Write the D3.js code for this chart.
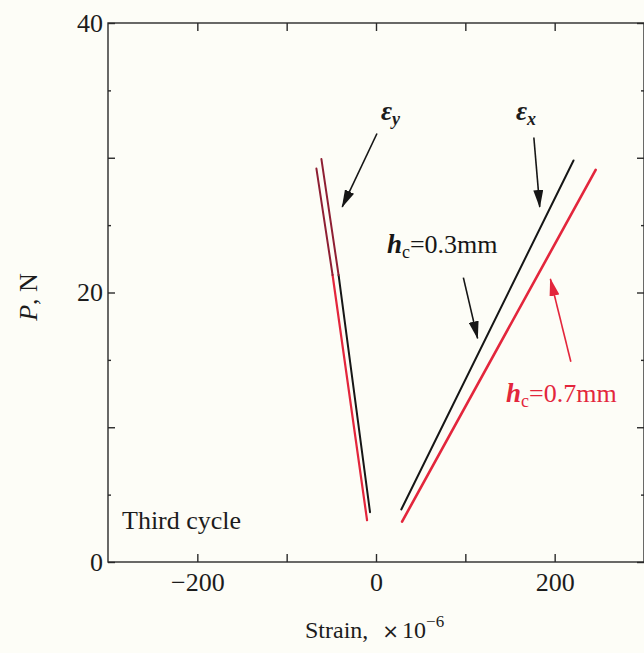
<!DOCTYPE html>
<html>
<head>
<meta charset="utf-8">
<script src="https://cdn.jsdelivr.net/npm/d3@7"></script>
<style>
  html, body { margin: 0; padding: 0; background: #fdfdf7; }
  svg { display: block; }
  text { font-family: "Liberation Serif", "Times New Roman", serif; fill: #1c1c1c; }
</style>
</head>
<body>
<svg id="chart" width="644" height="653"></svg>
<script>
// ---- axes ----
const strainDomain = [-300, 300];
const loadDomain = [0, 40];
const strainTicks = [-200, -100, 0, 100, 200];
const strainTickLabels = { "-200": "\u2212200", "0": "0", "200": "200" };
const loadMajorTicks = [0, 10, 20, 30, 40];
const loadMinorTicks = [5, 15, 25, 35];
const loadTickLabels = { "0": "0", "20": "20", "40": "40" };

// ---- measured curves, third load cycle (strain x1e-6, load N) ----
// eps_y gauges
const epsY03Strain = [-6.7, -41.9, -61.1];
const epsY03Load   = [3.7, 21.3, 29.9];
const epsY07Strain = [-10.0, -48.6, -66.7];
const epsY07Load   = [3.1, 21.3, 29.2];
// eps_x gauges
const epsX03Strain = [28.3, 221.1];
const epsX03Load   = [3.9, 29.8];
const epsX07Strain = [29.2, 245.9];
const epsX07Load   = [3.0, 29.1];

const BLACK = "#161616", RED = "#e3263c", MAROON = "#8e1f33";

const svg = d3.select("#chart");
const x = d3.scaleLinear().domain(strainDomain).range([108, 644]);
const y = d3.scaleLinear().domain(loadDomain).range([562, 23]);

const pts = (sx, sy) => sx.map((v, i) => [v, sy[i]]);
const line = d3.line().x(d => x(d[0])).y(d => y(d[1]));

// ---- curves ----
const curves = svg.append("g").attr("fill", "none")
  .attr("stroke-linecap", "round").attr("stroke-linejoin", "round");

// eps_y: lower part in gauge colour, upper part darker trace
const epsY = [
  { p: pts(epsY07Strain, epsY07Load), lower: RED, w: 2.2 },
  { p: pts(epsY03Strain, epsY03Load), lower: BLACK, w: 2 }
];
epsY.forEach(s => {
  curves.append("path").attr("d", line(s.p.slice(0, 2))).attr("stroke", s.lower).attr("stroke-width", s.w);
  curves.append("path").attr("d", line(s.p.slice(1))).attr("stroke", MAROON).attr("stroke-width", 2);
});
curves.append("path").attr("d", line(pts(epsX03Strain, epsX03Load))).attr("stroke", BLACK).attr("stroke-width", 2);
curves.append("path").attr("d", line(pts(epsX07Strain, epsX07Load))).attr("stroke", RED).attr("stroke-width", 2.6);

// ---- frame and ticks ----
const styleAxis = g => {
  g.select(".domain").remove();
  g.selectAll("line").attr("stroke", "#2a2a2a").attr("stroke-width", 1.4);
  g.selectAll("text").style("font-family", "'Liberation Serif','Times New Roman',serif")
    .style("font-size", "26px").attr("fill", "#1c1c1c");
};
const fmt = m => d => m[String(d)] || "";

svg.append("g").attr("transform", "translate(0,562)")
  .call(d3.axisBottom(x).tickValues(strainTicks).tickSize(-8).tickPadding(11).tickFormat(fmt(strainTickLabels)))
  .call(styleAxis);
svg.append("g").attr("transform", "translate(0,23)")
  .call(d3.axisTop(x).tickValues(strainTicks).tickSize(-8).tickFormat(""))
  .call(styleAxis);
svg.append("g").attr("transform", "translate(108,0)")
  .call(d3.axisLeft(y).tickValues(loadMajorTicks).tickSize(-7).tickPadding(5).tickFormat(fmt(loadTickLabels)))
  .call(styleAxis);
svg.append("g").attr("transform", "translate(108,0)")
  .call(d3.axisLeft(y).tickValues(loadMinorTicks).tickSize(-3).tickFormat(""))
  .call(styleAxis);
svg.append("g").attr("transform", "translate(644,0)")
  .call(d3.axisRight(y).tickValues(loadMajorTicks).tickSize(-7).tickFormat(""))
  .call(styleAxis);
svg.append("g").attr("transform", "translate(644,0)")
  .call(d3.axisRight(y).tickValues(loadMinorTicks).tickSize(-3).tickFormat(""))
  .call(styleAxis);

svg.append("rect").attr("x", x(strainDomain[0])).attr("y", y(loadDomain[1]))
  .attr("width", x(strainDomain[1]) - x(strainDomain[0]))
  .attr("height", y(loadDomain[0]) - y(loadDomain[1]))
  .attr("fill", "none").attr("stroke", "#2a2a2a").attr("stroke-width", 1.4);

// ---- axis titles ----
const xt = svg.append("text").attr("x", 305).attr("y", 638).style("font-size", "24px");
xt.append("tspan").text("Strain,");
xt.append("tspan").attr("dx", 14).style("font-family", "'DejaVu Sans',sans-serif").style("font-size", "20px").text("\u00d7");
xt.append("tspan").attr("dx", 3).text("10");
xt.append("tspan").attr("dy", -11).style("font-size", "17px").text("\u22126");

const yt = svg.append("text").attr("transform", "translate(37,297) rotate(-90)")
  .attr("text-anchor", "middle").style("font-size", "26px");
yt.append("tspan").style("font-style", "italic").text("P");
yt.append("tspan").text(", N");

// ---- annotations ----
const defs = svg.append("defs");
[["ahBlack", BLACK], ["ahRed", RED]].forEach(([id, c]) => {
  defs.append("marker").attr("id", id).attr("viewBox", "0 -5 18 10")
    .attr("markerUnits", "userSpaceOnUse").attr("markerWidth", 18).attr("markerHeight", 10)
    .attr("refX", 17).attr("refY", 0).attr("orient", "auto")
    .append("path").attr("d", "M0,-5L18,0L0,5Z").attr("fill", c);
});
const arrow = (a, b, c, id) => svg.append("line")
  .attr("x1", x(a[0])).attr("y1", y(a[1])).attr("x2", x(b[0])).attr("y2", y(b[1]))
  .attr("stroke", c).attr("stroke-width", 1.6).attr("marker-end", `url(#${id})`);

arrow([1.1, 31.8], [-37.8, 26.35], BLACK, "ahBlack");
arrow([176.7, 31.5], [183.3, 26.35], BLACK, "ahBlack");
arrow([97.8, 21.1], [113.7, 16.6], BLACK, "ahBlack");
arrow([218.1, 14.86], [195.2, 21.0], RED, "ahRed");

const eps = (sx, sy, sub) => {
  const t = svg.append("text").attr("x", x(sx)).attr("y", y(sy));
  t.append("tspan").style("font-style", "italic").style("font-weight", "bold").style("font-size", "27px").text("\u03b5");
  t.append("tspan").attr("dy", 5).style("font-style", "italic").style("font-weight", "bold").style("font-size", "18px").text(sub);
};
eps(5.6, 32.8, "y");
eps(156.7, 32.8, "x");

const hc = (sx, sy, val, c) => {
  const t = svg.append("text").attr("x", x(sx)).attr("y", y(sy)).attr("fill", c).style("fill", c);
  t.append("tspan").style("font-style", "italic").style("font-weight", "bold").style("font-size", "27px").text("h");
  t.append("tspan").attr("dy", 5).style("font-size", "18px").text("c");
  t.append("tspan").attr("dy", -5).style("font-size", "26px").text("=" + val);
};
hc(12.2, 22.9, "0.3mm", BLACK);
hc(145.6, 11.9, "0.7mm", RED);

svg.append("text").attr("x", 122).attr("y", 529).style("font-size", "26px").text("Third cycle");
</script>
</body>
</html>
